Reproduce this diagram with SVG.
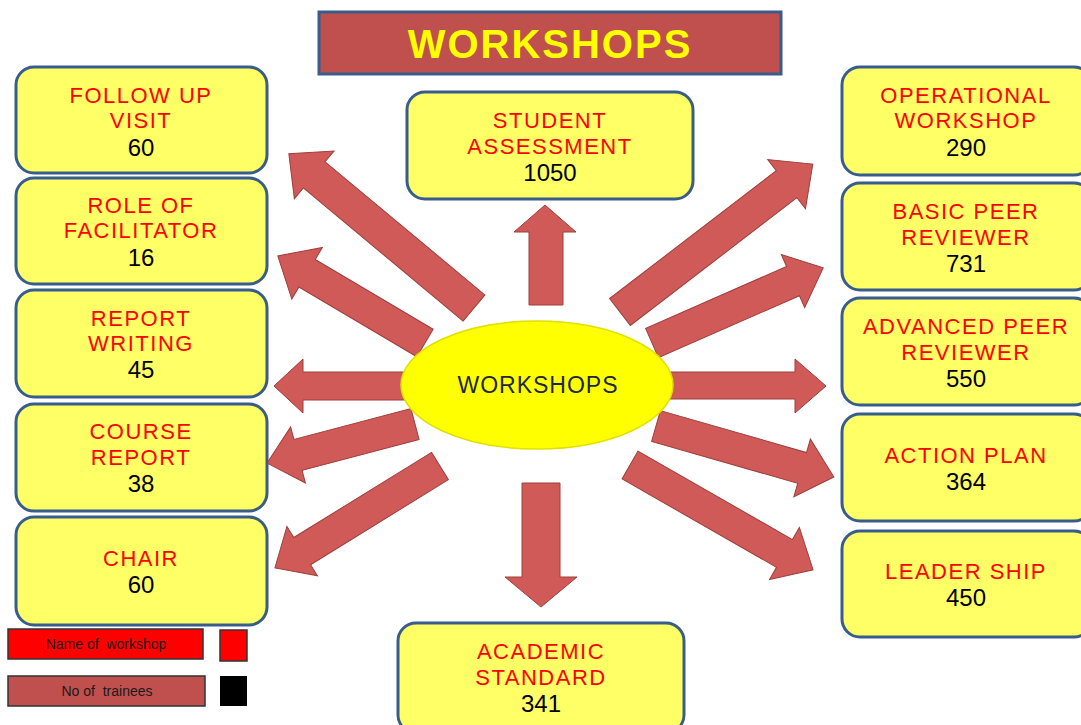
<svg xmlns="http://www.w3.org/2000/svg" width="1081" height="725" viewBox="0 0 1081 725">
<style>
.box{fill:#FFFF66;stroke:#385D8A;stroke-width:3}
.lbl{font-family:"Liberation Sans",Arial,sans-serif;font-size:22px;fill:#FF0000;text-anchor:middle;letter-spacing:1.5px}
.num{font-family:"Liberation Sans",Arial,sans-serif;font-size:24px;fill:#000;text-anchor:middle}
.arr{fill:#D05A57;stroke:#9E3E3B;stroke-width:1}
.leg{font-family:"Liberation Sans",Arial,sans-serif;font-size:14px;fill:#1a1a1a;text-anchor:middle}
</style>
<rect width="1081" height="725" fill="#fff"/>
<g id="title">
<rect x="319" y="12" width="462" height="62" fill="#C0504D" stroke="#385D8A" stroke-width="3"/>
<text x="550" y="58" font-family="Liberation Sans,Arial,sans-serif" font-size="40" font-weight="bold" fill="#FFFF00" text-anchor="middle" letter-spacing="2">WORKSHOPS</text>
</g>
<g id="n-followup"><rect class="box" x="16" y="67" width="251" height="106" rx="18"/><text class="lbl" x="141" y="103">FOLLOW UP</text><text class="lbl" x="141" y="128">VISIT</text><text class="num" x="141" y="156">60</text></g>
<g id="n-role"><rect class="box" x="16" y="178" width="251" height="106" rx="18"/><text class="lbl" x="141" y="213">ROLE OF</text><text class="lbl" x="141" y="238">FACILITATOR</text><text class="num" x="141" y="266">16</text></g>
<g id="n-report"><rect class="box" x="16" y="290" width="251" height="107" rx="18"/><text class="lbl" x="141" y="326">REPORT</text><text class="lbl" x="141" y="351">WRITING</text><text class="num" x="141" y="378">45</text></g>
<g id="n-course"><rect class="box" x="16" y="404" width="251" height="107" rx="18"/><text class="lbl" x="141" y="439">COURSE</text><text class="lbl" x="141" y="465">REPORT</text><text class="num" x="141" y="492">38</text></g>
<g id="n-chair"><rect class="box" x="16" y="517" width="251" height="108" rx="18"/><text class="lbl" x="141" y="566">CHAIR</text><text class="num" x="141" y="593">60</text></g>
<g id="n-student"><rect class="box" x="407" y="92" width="286" height="107" rx="18"/><text class="lbl" x="550" y="128">STUDENT</text><text class="lbl" x="550" y="154">ASSESSMENT</text><text class="num" x="550" y="181">1050</text></g>
<g id="n-academic"><rect class="box" x="398" y="623" width="286" height="110" rx="18"/><text class="lbl" x="541" y="659">ACADEMIC</text><text class="lbl" x="541" y="685">STANDARD</text><text class="num" x="541" y="712">341</text></g>
<g id="n-operational"><rect class="box" x="842" y="67" width="250" height="108" rx="18"/><text class="lbl" x="966" y="103">OPERATIONAL</text><text class="lbl" x="966" y="128">WORKSHOP</text><text class="num" x="966" y="156">290</text></g>
<g id="n-basic"><rect class="box" x="842" y="183" width="250" height="107" rx="18"/><text class="lbl" x="966" y="219">BASIC PEER</text><text class="lbl" x="966" y="245">REVIEWER</text><text class="num" x="966" y="272">731</text></g>
<g id="n-advanced"><rect class="box" x="842" y="298" width="250" height="107" rx="18"/><text class="lbl" x="966" y="334">ADVANCED PEER</text><text class="lbl" x="966" y="360">REVIEWER</text><text class="num" x="966" y="387">550</text></g>
<g id="n-action"><rect class="box" x="842" y="414" width="250" height="107" rx="18"/><text class="lbl" x="966" y="463">ACTION PLAN</text><text class="num" x="966" y="490">364</text></g>
<g id="n-leader"><rect class="box" x="842" y="531" width="250" height="106" rx="18"/><text class="lbl" x="966" y="579">LEADER SHIP</text><text class="num" x="966" y="606">450</text></g>
<g id="connectors">
<polygon class="arr" transform="translate(474,308) rotate(-140.2)" points="0,-17 208,-17 208,-31 241,0 208,31 208,17 0,17"/>
<polygon class="arr" transform="translate(425,343) rotate(-149.4)" points="0,-16 137,-16 137,-30 171,0 137,30 137,16 0,16"/>
<polygon class="arr" transform="translate(415,424) rotate(165.2)" points="0,-16 121,-16 121,-29 153,0 121,29 121,16 0,16"/>
<polygon class="arr" transform="translate(440,466) rotate(148.3)" points="0,-16 162,-16 162,-29 194,0 162,29 162,16 0,16"/>
<polygon class="arr" transform="translate(620,312) rotate(-37.5)" points="0,-17 210,-17 210,-31 243,0 210,31 210,17 0,17"/>
<polygon class="arr" transform="translate(652,343) rotate(-23.7)" points="0,-16 154,-16 154,-29 187,0 154,29 154,16 0,16"/>
<polygon class="arr" transform="translate(656,426) rotate(16)" points="0,-16 152,-16 152,-30 185,0 152,30 152,16 0,16"/>
<polygon class="arr" transform="translate(630,465) rotate(29.8)" points="0,-16 178,-16 178,-30 211,0 178,30 178,16 0,16"/>
<polygon class="arr" points="529,305 529,232 514,232 545,205 576,232 563,232 563,305"/>
<polygon class="arr" points="522,483 560,483 560,577 577,577 541,607 505,577 522,577"/>
<polygon class="arr" points="410,372 303,372 303,359 274,386 303,413 303,400 410,400"/>
<polygon class="arr" points="660,372 795,372 795,359 826,386 795,413 795,399 660,399"/>
</g>
<g id="n-center">
<ellipse cx="537" cy="385" rx="136" ry="64" fill="#FFFF00" stroke="#E0E000" stroke-width="1.5"/>
<text x="538" y="393" font-family="Liberation Sans,Arial,sans-serif" font-size="23" fill="#1C2742" text-anchor="middle" letter-spacing="1">WORKSHOPS</text>
</g>
<g id="legend">
<rect x="8" y="629" width="195" height="30" fill="#FF0000" stroke="#333" stroke-width="1.5"/>
<text class="leg" x="106" y="649">Name of&#160; workshop</text>
<rect x="220" y="630" width="27" height="31" fill="#FF0000" stroke="#333" stroke-width="1.5"/>
<rect x="8" y="676" width="197" height="30" fill="#C0504D" stroke="#333" stroke-width="1.5"/>
<text class="leg" x="107" y="696">No of&#160; trainees</text>
<rect x="220" y="676" width="27" height="30" fill="#000"/>
</g>
</svg>
